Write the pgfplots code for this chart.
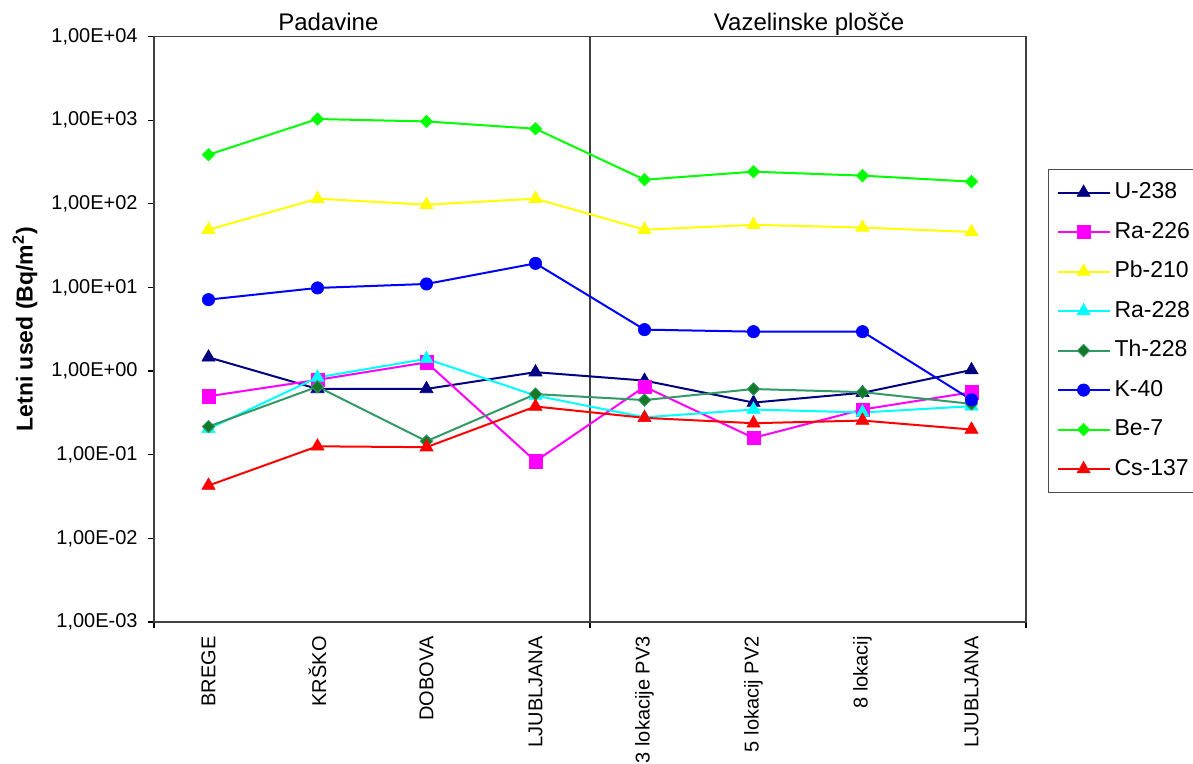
\documentclass[border=0pt]{standalone}
\usepackage{fontspec}
\setmainfont{Liberation Sans}
\usepackage{pgfplots}
\pgfplotsset{compat=1.18}
\definecolor{cNavy}{RGB}{0,0,128}
\definecolor{cMag}{RGB}{255,0,255}
\definecolor{cYel}{RGB}{255,255,0}
\definecolor{cCyan}{RGB}{0,255,255}
\definecolor{cSea}{RGB}{51,153,102}
\definecolor{cDkGreen}{RGB}{20,120,40}
\definecolor{cBlue}{RGB}{0,0,255}
\definecolor{cGreen}{RGB}{0,255,0}
\definecolor{cRed}{RGB}{255,0,0}
\begin{document}
\begin{tikzpicture}
\begin{axis}[
  name=ax,
  scale only axis,
  width=436pt, height=292.75pt,
  ymode=log,
  xmin=-0.5, xmax=7.5,
  ymin=1e-3, ymax=1e4,
  clip=false,
  axis line style={black!75, line width=0.6pt},
  tick align=outside,
  tick pos=left,
  major tick length=3pt,
  tick style={black, line width=0.6pt},
  minor tick num=0,
  ytick={1e-3,1e-2,1e-1,1,1e1,1e2,1e3,1e4},
  yticklabels={{1,00E-03},{1,00E-02},{1,00E-01},{1,00E+00},{1,00E+01},{1,00E+02},{1,00E+03},{1,00E+04}},
  yminorticks=false,
  yticklabel style={font=\fontsize{10}{12}\selectfont, inner sep=0pt, xshift=-5pt},
  xtick={-0.5,3.5,7.5},
  xticklabels={},
  extra x ticks={0,1,2,3,4,5,6,7},
  extra x tick labels={BREGE,KRŠKO,DOBOVA,LJUBLJANA,3 lokacije PV3,5 lokacij PV2,8 lokacij,LJUBLJANA},
  extra x tick style={major tick length=0pt, tick style={draw=none},
     xticklabel style={rotate=90, anchor=east, inner sep=0pt, yshift=0pt, xshift=0pt, font=\fontsize{10}{12}\selectfont}},
  xticklabel shift=7pt,
  ylabel={\textbf{Letni used (Bq/m\textsuperscript{2})}},
  every axis y label/.style={at={(axis description cs:0,0.5)}, xshift=-64.5pt, rotate=90, anchor=center, font=\fontsize{11.5}{13}\selectfont},
  legend cell align=left,
  legend style={at={(1.0252,0.7737)}, anchor=north west, draw=black!70, line width=0.6pt,
     font=\fontsize{11.5}{13}\selectfont, row sep=4.75pt, inner xsep=4pt, inner ysep=4pt,
     nodes={inner ysep=2pt, text height=8.5pt, text depth=2.5pt}},
  legend image code/.code={\draw[mark repeat=2,mark phase=2,#1] plot coordinates {(0pt,0pt) (13pt,0pt) (26pt,0pt)};},
  every axis plot/.append style={line width=1pt},
]
\draw[black!75, line width=0.6pt] (axis cs:3.5,1e-3) -- (axis cs:3.5,1e4);
\node[anchor=base, font=\fontsize{12}{14}\selectfont] at (axis cs:1.1,1e4) [yshift=2.75pt] {Padavine};
\node[anchor=base, font=\fontsize{12}{14}\selectfont] at (axis cs:5.51,1e4) [yshift=2.75pt] {Vazelinske plošče};

\addplot[color=cNavy, mark=triangle*, mark size=3.8pt, mark options={fill=cNavy, draw=cNavy, line width=0.3pt}] coordinates {
(0,1.46) (1,0.612) (2,0.612) (3,0.97) (4,0.77) (5,0.42) (6,0.55) (7,1.03)};
\addlegendentry{U-238}
\addplot[color=cMag, mark=square*, mark size=3.3pt, mark options={fill=cMag, draw=cMag, line width=0.3pt}] coordinates {
(0,0.50) (1,0.785) (2,1.27) (3,0.0836) (4,0.65) (5,0.159) (6,0.347) (7,0.558)};
\addlegendentry{Ra-226}
\addplot[color=cYel, mark=triangle*, mark size=3.8pt, mark options={fill=cYel, draw=cYel, line width=0.3pt}] coordinates {
(0,49) (1,115) (2,97.6) (3,115) (4,49) (5,56) (6,52) (7,46)};
\addlegendentry{Pb-210}
\addplot[color=cCyan, mark=triangle*, mark size=3.8pt, mark options={fill=cCyan, draw=cCyan, line width=0.3pt}] coordinates {
(0,0.204) (1,0.84) (2,1.40) (3,0.51) (4,0.28) (5,0.347) (6,0.32) (7,0.38)};
\addlegendentry{Ra-228}
\addplot[color=cSea, mark=square*, mark size=2.2pt, mark options={rotate=45, fill=cDkGreen, draw=cSea, line width=0.4pt}] coordinates {
(0,0.217) (1,0.65) (2,0.145) (3,0.53) (4,0.45) (5,0.61) (6,0.56) (7,0.405)};
\addlegendentry{Th-228}
\addplot[color=cBlue, mark=*, mark size=3.1pt, mark options={fill=cBlue, draw=cBlue, line width=0.3pt}] coordinates {
(0,7.15) (1,9.86) (2,11.0) (3,19.4) (4,3.13) (5,2.96) (6,2.96) (7,0.453)};
\addlegendentry{K-40}
\addplot[color=cGreen, mark=square*, mark size=2.2pt, mark options={rotate=45, fill=cGreen, draw=cGreen, line width=0.3pt}] coordinates {
(0,386) (1,1031) (2,965) (3,789) (4,194) (5,242) (6,217) (7,184)};
\addlegendentry{Be-7}
\addplot[color=cRed, mark=triangle*, mark size=3.8pt, mark options={fill=cRed, draw=cRed, line width=0.3pt}] coordinates {
(0,0.0428) (1,0.126) (2,0.123) (3,0.377) (4,0.276) (5,0.238) (6,0.256) (7,0.20)};
\addlegendentry{Cs-137}
\end{axis}
\pgfresetboundingbox
\path ([xshift=-77pt,yshift=-71pt]ax.south west) rectangle ([xshift=83.5pt,yshift=18.25pt]ax.north east);
\end{tikzpicture}
\end{document}
